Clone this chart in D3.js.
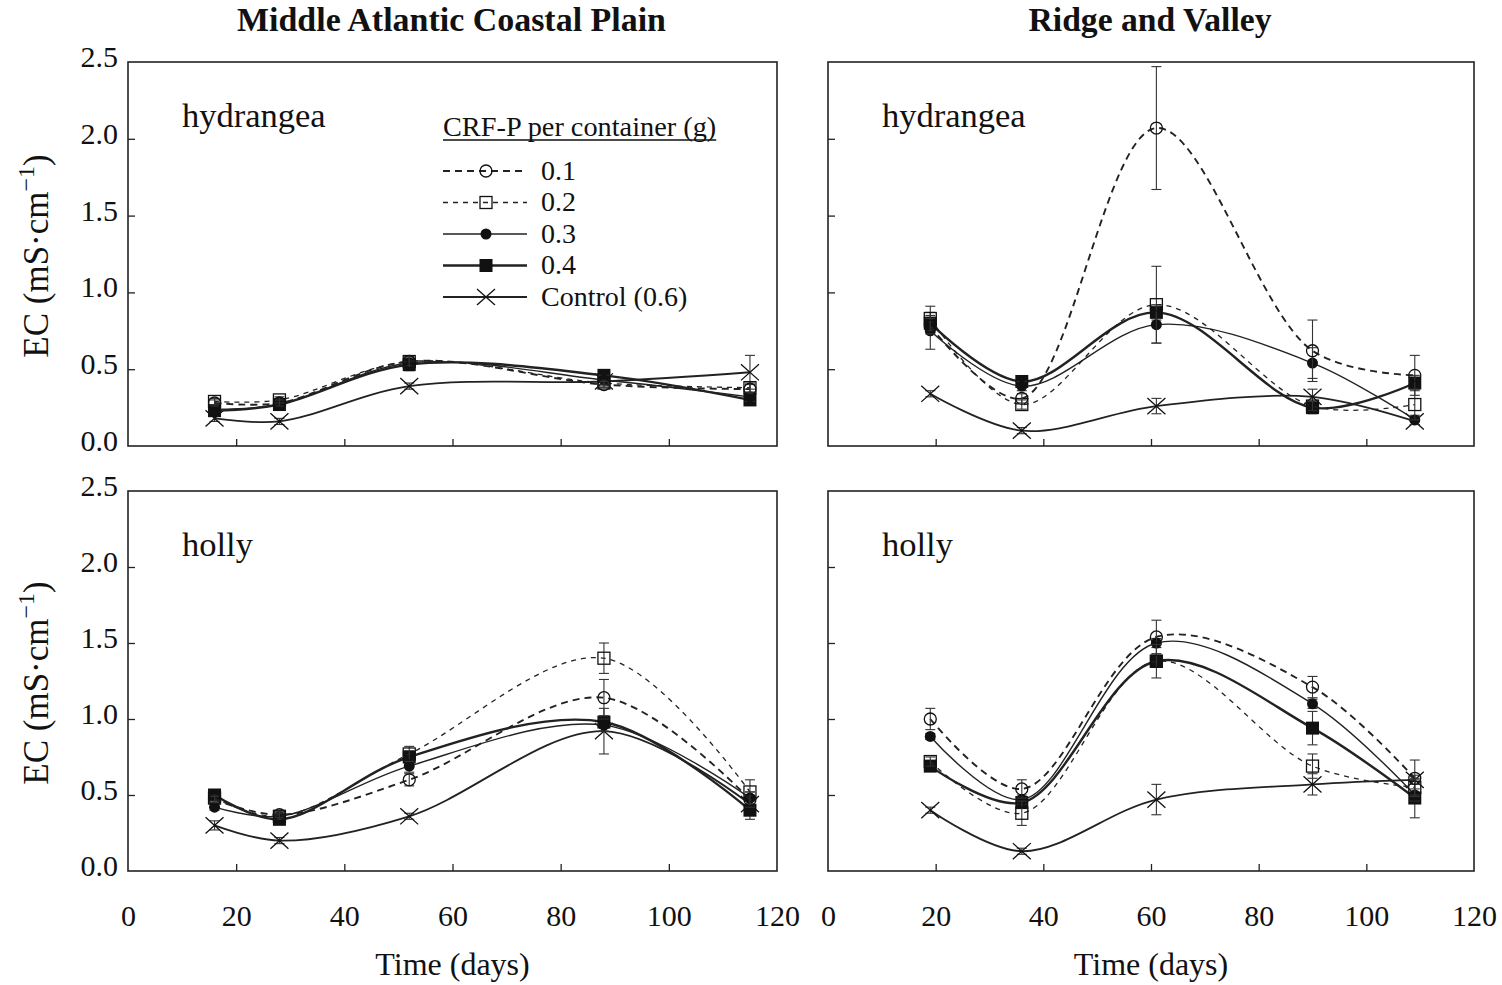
<!DOCTYPE html>
<html><head><meta charset="utf-8">
<script src="https://cdn.jsdelivr.net/npm/d3@7"></script>
<style>
body{margin:0;background:#fff}
text{font-family:"Liberation Serif","Times New Roman",serif;fill:#111}
</style>
</head><body>
<svg id="c" width="1502" height="985"></svg>
<script>
// ---------- data ----------
const treatments = ["0.1", "0.2", "0.3", "0.4", "Control (0.6)"];
const regions = ["Middle Atlantic Coastal Plain", "Ridge and Valley"];
const plants = ["hydrangea", "holly"];
const daysMACP = [16, 28, 52, 88, 115];
const daysRV = [19, 36, 61, 90, 109];
const xTicks = [0, 20, 40, 60, 80, 100, 120];
const yTicks = [0, 0.5, 1.0, 1.5, 2.0, 2.5];

// EC (mS/cm), rows = treatments 0.1, 0.2, 0.3, 0.4, Control
const macpHydrangeaEC = [
  [0.28, 0.28, 0.55, 0.40, 0.37],
  [0.29, 0.30, 0.55, 0.41, 0.38],
  [0.24, 0.27, 0.54, 0.43, 0.32],
  [0.23, 0.27, 0.53, 0.46, 0.30],
  [0.18, 0.16, 0.39, 0.42, 0.48]
];
const macpHydrangeaSE = [
  [0.02, 0.02, 0.03, 0.02, 0.03],
  [0.02, 0.02, 0.03, 0.02, 0.03],
  [0.02, 0.02, 0.03, 0.03, 0.03],
  [0.03, 0.03, 0.04, 0.03, 0.03],
  [0.02, 0.02, 0.02, 0.02, 0.11]
];
const macpHollyEC = [
  [0.47, 0.37, 0.60, 1.14, 0.47],
  [0.48, 0.36, 0.77, 1.40, 0.52],
  [0.42, 0.36, 0.69, 0.96, 0.48],
  [0.50, 0.34, 0.75, 0.98, 0.40],
  [0.30, 0.20, 0.36, 0.92, 0.44]
];
const macpHollySE = [
  [0.02, 0.02, 0.04, 0.12, 0.05],
  [0.02, 0.02, 0.05, 0.10, 0.08],
  [0.02, 0.02, 0.04, 0.04, 0.04],
  [0.03, 0.02, 0.04, 0.04, 0.06],
  [0.03, 0.02, 0.02, 0.15, 0.04]
];
const rvHydrangeaEC = [
  [0.78, 0.31, 2.07, 0.62, 0.46],
  [0.83, 0.27, 0.92, 0.26, 0.27],
  [0.75, 0.39, 0.79, 0.54, 0.17],
  [0.80, 0.42, 0.87, 0.25, 0.41],
  [0.34, 0.10, 0.26, 0.32, 0.16]
];
const rvHydrangeaSE = [
  [0.05, 0.03, 0.40, 0.20, 0.13],
  [0.08, 0.03, 0.25, 0.03, 0.10],
  [0.12, 0.03, 0.12, 0.10, 0.03],
  [0.05, 0.03, 0.05, 0.04, 0.05],
  [0.02, 0.02, 0.05, 0.05, 0.02]
];
const rvHollyEC = [
  [1.00, 0.54, 1.54, 1.21, 0.61],
  [0.72, 0.38, 1.38, 0.69, 0.55],
  [0.885, 0.47, 1.50, 1.10, 0.50],
  [0.69, 0.45, 1.38, 0.94, 0.48],
  [0.40, 0.13, 0.47, 0.57, 0.60]
];
const rvHollySE = [
  [0.07, 0.06, 0.11, 0.07, 0.12],
  [0.03, 0.08, 0.11, 0.08, 0.05],
  [0.02, 0.03, 0.03, 0.03, 0.04],
  [0.03, 0.03, 0.04, 0.11, 0.13],
  [0.02, 0.02, 0.10, 0.07, 0.03]
];

// ---------- layout / styles ----------
const svg = d3.select("#c");
const cols = [[128, 777], [828, 1474]];
const rows = [[62, 446], [491, 871]];
const FONT = 30;

const styles = [
  {dash: "7,5", w: 1.9, marker: "circleOpen"},
  {dash: "5,5", w: 1.3, marker: "squareOpen"},
  {dash: null, w: 1.4, marker: "circleFilled"},
  {dash: null, w: 2.4, marker: "squareFilled"},
  {dash: null, w: 1.8, marker: "x"}
];

const panels = [
  {col: 0, row: 0, days: daysMACP, ec: macpHydrangeaEC, se: macpHydrangeaSE, plant: plants[0]},
  {col: 1, row: 0, days: daysRV, ec: rvHydrangeaEC, se: rvHydrangeaSE, plant: plants[0]},
  {col: 0, row: 1, days: daysMACP, ec: macpHollyEC, se: macpHollySE, plant: plants[1]},
  {col: 1, row: 1, days: daysRV, ec: rvHollyEC, se: rvHollySE, plant: plants[1]}
];

function drawMarker(g, type, cx, cy) {
  if (type === "circleOpen") {
    g.append("circle").attr("cx", cx).attr("cy", cy).attr("r", 6)
      .attr("fill", "none").attr("stroke", "#111").attr("stroke-width", 1.3);
  } else if (type === "squareOpen") {
    g.append("rect").attr("x", cx - 6).attr("y", cy - 6).attr("width", 12).attr("height", 12)
      .attr("fill", "none").attr("stroke", "#111").attr("stroke-width", 1.3);
  } else if (type === "circleFilled") {
    g.append("circle").attr("cx", cx).attr("cy", cy).attr("r", 5.5).attr("fill", "#111");
  } else if (type === "squareFilled") {
    g.append("rect").attr("x", cx - 6.5).attr("y", cy - 6.5).attr("width", 13).attr("height", 13)
      .attr("fill", "#111");
  } else {
    const s = 9;
    g.append("path")
      .attr("d", `M${cx - s},${cy - s * 0.9}L${cx + s},${cy + s * 0.9}M${cx - s},${cy + s * 0.9}L${cx + s},${cy - s * 0.9}`)
      .attr("stroke", "#111").attr("stroke-width", 1.3).attr("fill", "none");
  }
}

panels.forEach(p => {
  const [x0, x1] = cols[p.col];
  const [y0, y1] = rows[p.row];
  const x = d3.scaleLinear().domain([0, 120]).range([x0, x1]);
  const y = d3.scaleLinear().domain([0, 2.5]).range([y1, y0]);
  const g = svg.append("g");

  // inner ticks
  const bt = g.append("g").attr("transform", `translate(0,${y1})`)
    .call(d3.axisBottom(x).tickValues([20, 40, 60, 80, 100]).tickSize(-7).tickFormat(""));
  const lt = g.append("g").attr("transform", `translate(${x0},0)`)
    .call(d3.axisLeft(y).tickValues([0.5, 1.0, 1.5, 2.0]).tickSize(-7).tickFormat(""));
  [bt, lt].forEach(a => {
    a.select(".domain").remove();
    a.selectAll("line").attr("stroke", "#222").attr("stroke-width", 1.3);
  });

  // tick labels
  if (p.col === 0) {
    const yl = g.append("g").attr("transform", `translate(${x0 - 10},0)`)
      .call(d3.axisLeft(y).tickValues(yTicks).tickSize(0).tickPadding(0).tickFormat(d3.format(".1f")));
    yl.select(".domain").remove();
    yl.selectAll("text").attr("font-size", FONT).attr("font-family", "Liberation Serif")
      .attr("fill", "#111").attr("dy", "0.28em").attr("y", -4);
  }
  if (p.row === 1) {
    const xl = g.append("g").attr("transform", `translate(0,${y1 + 29})`)
      .call(d3.axisBottom(x).tickValues(xTicks).tickSize(0).tickPadding(0).tickFormat(d3.format("d")));
    xl.select(".domain").remove();
    xl.selectAll("text").attr("font-size", FONT).attr("font-family", "Liberation Serif")
      .attr("fill", "#111").attr("dy", "0.85em");
  }

  // frame
  g.append("rect").attr("x", x0).attr("y", y0).attr("width", x1 - x0).attr("height", y1 - y0)
    .attr("fill", "none").attr("stroke", "#222").attr("stroke-width", 1.6);

  // panel label
  g.append("text").attr("x", x0 + 54).attr("y", y0 + 65).attr("font-size", 34.5).text(p.plant);

  const line = d3.line().x(d => x(d[0])).y(d => y(d[1])).curve(d3.curveCatmullRom.alpha(0.5));

  // draw control first, then others
  [4, 3, 2, 1, 0].forEach(i => {
    const st = styles[i];
    const pts = p.days.map((d, j) => [d, p.ec[i][j], p.se[i][j]]);
    g.append("path").attr("d", line(pts)).attr("fill", "none").attr("stroke", "#222")
      .attr("stroke-width", st.w).attr("stroke-dasharray", st.dash);
    // error bars
    pts.forEach(([d, v, e]) => {
      const cx = x(d);
      g.append("line").attr("x1", cx).attr("x2", cx).attr("y1", y(v - e)).attr("y2", y(v + e))
        .attr("stroke", "#333").attr("stroke-width", 1.1);
      [v - e, v + e].forEach(t => g.append("line").attr("x1", cx - 5).attr("x2", cx + 5)
        .attr("y1", y(t)).attr("y2", y(t)).attr("stroke", "#333").attr("stroke-width", 1.1));
    });
    pts.forEach(([d, v]) => drawMarker(g, st.marker, x(d), y(v)));
  });
});

// region titles
regions.forEach((r, i) => {
  svg.append("text").attr("x", (cols[i][0] + cols[i][1]) / 2 - 1).attr("y", 31)
    .attr("text-anchor", "middle").attr("font-size", 34).attr("font-weight", "bold")
    .attr("textLength", i === 0 ? 429 : 243).attr("lengthAdjust", "spacingAndGlyphs").text(r);
  svg.append("text").attr("x", (cols[i][0] + cols[i][1]) / 2).attr("y", 975)
    .attr("text-anchor", "middle").attr("font-size", 32).text("Time (days)");
});

// y axis titles
rows.forEach(r => {
  const cy = (r[0] + r[1]) / 2 + 2;
  const t = svg.append("text").attr("transform", `translate(48,${cy}) rotate(-90)`)
    .attr("text-anchor", "middle").attr("font-size", 35);
  t.append("tspan").text("EC (mS·cm");
  t.append("tspan").text("−1").attr("font-size", 24).attr("dy", -14);
  t.append("tspan").text(")").attr("dy", 14);
});

// legend
const lg = svg.append("g");
const lgTitle = lg.append("text").attr("x", 443).attr("y", 136).attr("font-size", 28.3)
  .text("CRF-P per container (g)");
const tw = lgTitle.node().getComputedTextLength();
lg.append("line").attr("x1", 443).attr("x2", 443 + tw).attr("y1", 140).attr("y2", 140)
  .attr("stroke", "#111").attr("stroke-width", 1.3);
treatments.forEach((t, i) => {
  const cy = 171 + i * 31.5;
  const st = styles[i];
  lg.append("line").attr("x1", 443).attr("x2", 527).attr("y1", cy).attr("y2", cy)
    .attr("stroke", "#222").attr("stroke-width", st.w).attr("stroke-dasharray", st.dash);
  drawMarker(lg, st.marker, 486, cy);
  lg.append("text").attr("x", 541).attr("y", cy).attr("dy", "0.32em").attr("font-size", 28).text(t);
});
</script>
</body></html>
